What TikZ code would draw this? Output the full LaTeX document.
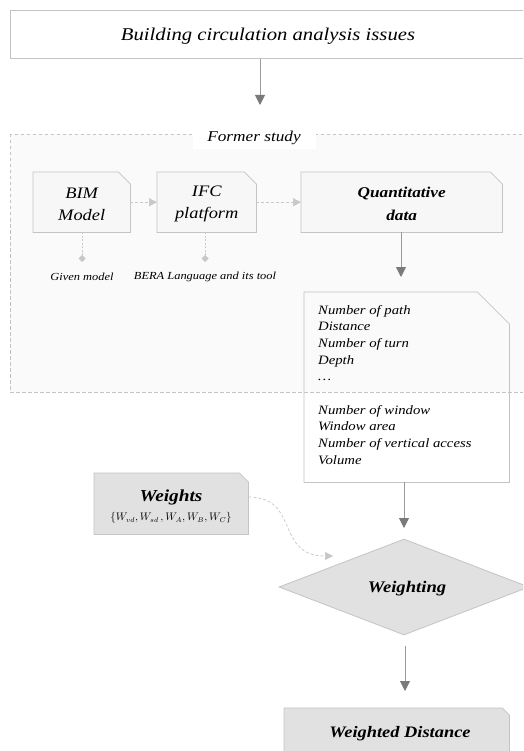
\documentclass[tikz,border=0pt]{standalone}
\usepackage{fontspec}
\setmainfont[FakeStretch=1.15]{Liberation Serif}
\usetikzlibrary{arrows.meta,calc,shapes.geometric}
\definecolor{lineg}{HTML}{C4C4C4}
\definecolor{arrg}{HTML}{9A9A9A}
\definecolor{tipg}{HTML}{7A7A7A}
\definecolor{panel}{HTML}{FAFAFA}
\definecolor{boxf}{HTML}{F7F7F7}
\definecolor{grayf}{HTML}{E1E1E1}
\definecolor{lightarr}{HTML}{C8C8C8}
\tikzset{
  boxnode/.style={rectangle, draw=none, anchor=north west, inner sep=0pt, align=center},
  arr/.style={draw=arrg, line width=0.9pt, -{Triangle[width=10pt,length=10pt,fill=tipg,color=tipg]}},
  dasharr/.style={draw=lightarr, line width=0.7pt, dash pattern=on 3pt off 2pt, -{Triangle[width=8pt,length=8pt,fill=lightarr,color=lightarr]}},
  dotconn/.style={draw=lightarr, line width=0.7pt, dash pattern=on 2pt off 1.5pt, -{Diamond[width=7pt,length=7pt,fill=lightarr,color=lightarr]}},
  outline/.style={draw=lineg, line width=0.8pt},
}
\newcommand{\snipout}[3]{% node, cut, style
  \path[#3] (#1.north west) -- ([xshift=-#2pt]#1.north east) -- ([yshift=-#2pt]#1.north east) -- (#1.south east) -- (#1.south west) -- cycle;}
\begin{document}
\begin{tikzpicture}[x=1pt,y=-1pt]
\useasboundingbox (0,0) rectangle (523,751);
\clip (0,0) rectangle (523,751);
\fill[white] (0,0) rectangle (523,751);

% top box
\node[draw=lineg, line width=0.8pt, fill=white, minimum width=520pt, minimum height=48pt, anchor=north west, inner sep=0pt] (top) at (10,10) {};
\node[font=\fontsize{18}{22}\selectfont\itshape] (toptext) at (268,36) {Building circulation analysis issues};
\coordinate (a1end) at (260,105);
\draw[arr] (top.south -| a1end) -- (a1end);

% former study panel
\draw[draw=lineg, line width=0.7pt, dash pattern=on 3.5pt off 2.5pt, fill=panel] (10,134) rectangle (530,392);
\node[fill=white, minimum width=123pt, minimum height=22pt, inner sep=0pt, font=\fontsize{15}{18}\selectfont\itshape] (fs) at (254,138) {Former study};

% BIM, IFC, Quantitative
\node[boxnode, minimum width=97pt, minimum height=60pt] (bim) at (33,172) {};
\snipout{bim}{12}{outline, fill=boxf}
\node[font=\fontsize{16}{22}\selectfont\itshape, align=center] (bimt) at ([yshift=-2pt]bim.center) {BIM\\Model};

\node[boxnode, minimum width=99pt, minimum height=60pt] (ifc) at (157,172) {};
\snipout{ifc}{12}{outline, fill=boxf}
\node[font=\fontsize{16}{22}\selectfont\itshape, align=center] (ifct) at ([yshift=-2pt]ifc.center) {IFC\\platform};

\node[boxnode, minimum width=201pt, minimum height=60pt] (quant) at (301,172) {};
\snipout{quant}{12}{outline, fill=boxf}
\node[font=\fontsize{15}{23}\selectfont\bfseries\itshape, align=center] (quantt) at ([yshift=-2pt]quant.center) {Quantitative\\data};

\draw[dasharr] (bim.east) -- (ifc.west);
\draw[dasharr] (ifc.east) -- (quant.west);

% annotations
\coordinate (d1) at (82,262);
\coordinate (d2) at (205,262);
\draw[dotconn] (bim.south -| d1) -- (d1);
\draw[dotconn] (ifc.south -| d2) -- (d2);
\node[font=\fontsize{10.8}{13}\selectfont\itshape] (gm) at (82,277) {Given model};
\node[font=\fontsize{10.8}{13}\selectfont\itshape] (bera) at (205,277) {BERA Language and its tool};

% list box
\node[boxnode, minimum width=205pt, minimum height=190pt] (list) at (304,292) {};
\snipout{list}{32}{outline}
\coordinate (a2end) at (401,277);
\draw[arr] (quant.south -| a2end) -- (a2end);
\node[anchor=north west, align=left, inner sep=0pt, font=\fontsize{12.8}{16.6}\selectfont\itshape] (listtext) at (318,305) {Number of path\\Distance\\Number of turn\\Depth\\\dots\\[17pt]Number of window\\Window area\\Number of vertical access\\Volume};

% diamond
\node[diamond, draw=lineg, line width=0.8pt, fill=grayf, minimum width=250pt, minimum height=96pt, inner sep=0pt, aspect=2.6] (dia) at (404,587) {};
\node[font=\fontsize{16.2}{20}\selectfont\bfseries\itshape] (diat) at (407,589) {Weighting};
\coordinate (a3end) at (404,528);
\draw[arr] (list.south -| a3end) -- (a3end);

% weights
\node[boxnode, minimum width=154pt, minimum height=61pt] (wts) at (94,473) {};
\snipout{wts}{9}{outline, fill=grayf}
\node[font=\fontsize{16.8}{20}\selectfont\bfseries\itshape] (wtitle) at (171,497) {Weights};
\node[font=\fontsize{10.5}{12}\selectfont] (wform) at (171,518) {$\{W_{vd}, W_{sd}\,, W_A, W_B, W_C\}$};
\coordinate (a4end) at (333,556);
\draw[dasharr] (wts.east |- 0,497) .. controls (300,497) and (275,556) .. (a4end);

% weighted distance
\node[boxnode, minimum width=225pt, minimum height=60pt] (wd) at (284,708) {};
\snipout{wd}{7}{outline, fill=grayf}
\node[font=\fontsize{16}{20}\selectfont\bfseries\itshape] (wdt) at (400,734) {Weighted Distance};
\coordinate (a5start) at (405,646);
\coordinate (a5end) at (405,691);
\draw[arr] (a5start) -- (a5end);
\end{tikzpicture}
\end{document}
